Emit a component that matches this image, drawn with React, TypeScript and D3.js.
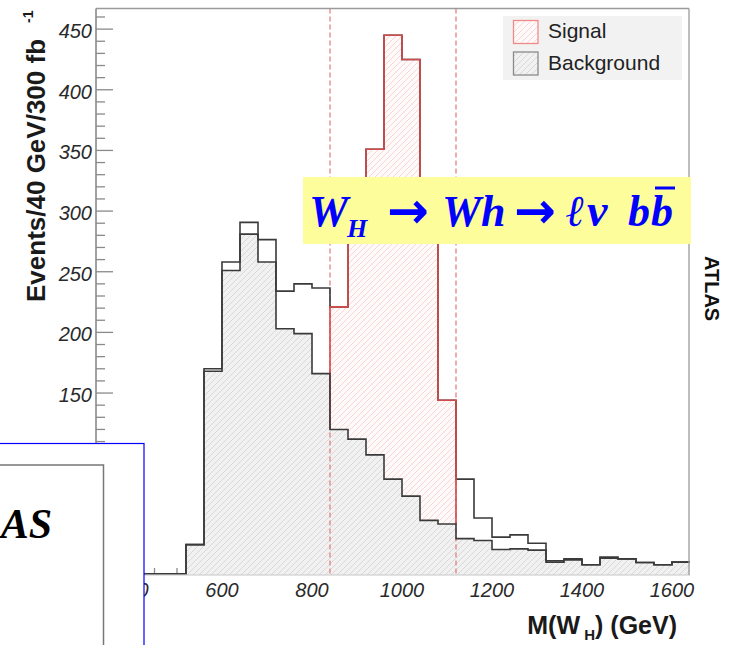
import React from 'react';
import * as d3 from 'd3';

// ---------------- data ----------------
const binStart = 320;
const binWidth = 40;
// background events per 40 GeV bin (320 .. 1640 GeV)
const background = [
  1, 1, 1, 1, 1, 25, 168, 251, 281, 258, 203, 199, 166,
  120, 112, 99, 79, 65, 45, 42,
  30, 28.5, 21, 21.5, 20.5, 10.6, 12.5, 8.4, 13.9, 13.3, 10.3, 8.4, 10.6,
];
// signal events stacked on top of background
const signal = [
  0, 0, 0, 0, 0, 0, 2, 7, 9.7, 18.5, 31, 41, 70.6,
  101, 190, 252, 366, 360, 262, 102,
  49, 18.5, 10.2, 11.6, 5.7, 1.1, 0.8, 0, 0.8, 0, 0, 0, 0,
];
const massWindow = [840, 1120];
const xMajorTicks = [400, 600, 800, 1000, 1200, 1400, 1600];
const yMajorTicks = [0, 50, 100, 150, 200, 250, 300, 350, 400, 450];
const xDomain = [320, 1640];
const yDomain = [0, 467];
const legendItems = ['Signal', 'Background'];

const SANS = "'Liberation Sans', Arial, Helvetica, sans-serif";
const SERIF = "'Liberation Serif', 'Times New Roman', 'DejaVu Serif', serif";

export default function App() {
  const W = 731, H = 645;
  const x = d3.scaleLinear().domain(xDomain).range([96, 690]);
  const y = d3.scaleLinear().domain(yDomain).range([575, 8.5]);

  const bins = background.map((b, i) => ({
    x0: binStart + i * binWidth,
    x1: binStart + (i + 1) * binWidth,
    bkg: b,
    tot: b + signal[i],
  }));
  const last = bins[bins.length - 1];

  const stepPts = (key: 'bkg' | 'tot') =>
    bins.map((d) => [d.x0, d[key]] as [number, number]).concat([[last.x1, last[key]]]);

  const line = d3.line<[number, number]>().x((d) => x(d[0])).y((d) => y(d[1])).curve(d3.curveStepAfter);
  const bkgArea = d3
    .area<[number, number]>()
    .x((d) => x(d[0]))
    .y0(y(0))
    .y1((d) => y(d[1]))
    .curve(d3.curveStepAfter);

  const win = bins.filter((d) => d.x0 >= massWindow[0] && d.x1 <= massWindow[1]);
  const winLast = win[win.length - 1];
  type P = { x: number; lo: number; hi: number };
  const winPts: P[] = win.map((d) => ({ x: d.x0, lo: d.bkg, hi: d.tot }));
  winPts.push({ x: winLast.x1, lo: winLast.bkg, hi: winLast.tot });
  const sigArea = d3
    .area<P>()
    .x((d) => x(d.x))
    .y0((d) => y(d.lo))
    .y1((d) => y(d.hi))
    .curve(d3.curveStepAfter);
  const redOutline: [number, number][] = [[win[0].x0, win[0].bkg] as [number, number]]
    .concat(win.map((d) => [d.x0, d.tot] as [number, number]))
    .concat([[winLast.x1, winLast.tot], [winLast.x1, winLast.bkg]]);

  const xMinor = d3.range(350, 1640, 50).filter((v) => v % 200 !== 0);
  const yMinor = d3.range(0, 467, 10).filter((v) => v % 50 !== 0);

  const axisColor = '#8a8a8a';
  const labelColor = '#2a2a2a';

  return (
    <div style={{ position: 'absolute', left: 0, top: 0 }}>
      <svg width={W} height={H} style={{ display: 'block', background: '#fff' }}>
        <defs>
          <pattern id="hatchGray" patternUnits="userSpaceOnUse" width="6" height="6">
            <rect width="6" height="6" fill="#f1f1f1" />
            <path d="M-1,1 l2,-2 M0,6 l6,-6 M5,7 l2,-2" stroke="#d2d2d2" strokeWidth="0.8" />
          </pattern>
          <pattern id="hatchRed" patternUnits="userSpaceOnUse" width="6" height="6">
            <rect width="6" height="6" fill="#fffafa" />
            <path d="M-1,1 l2,-2 M0,6 l6,-6 M5,7 l2,-2" stroke="#f7cccc" strokeWidth="0.8" />
          </pattern>
        </defs>

        {/* axis ticks (drawn beneath the histograms) */}
        {xMajorTicks.map((v) => (
          <line key={'xM' + v} x1={x(v)} x2={x(v)} y1={575} y2={561} stroke={axisColor} strokeWidth={1.3} />
        ))}
        {xMinor.map((v) => (
          <line key={'xm' + v} x1={x(v)} x2={x(v)} y1={575} y2={568} stroke={axisColor} strokeWidth={1.3} />
        ))}

        {/* background histogram fill */}
        <path d={bkgArea(stepPts('bkg')) || ''} fill="url(#hatchGray)" stroke="none" />
        {/* signal fill inside mass window */}
        <path d={sigArea(winPts) || ''} fill="url(#hatchRed)" stroke="none" />

        {/* mass window lines */}
        {massWindow.map((v) => (
          <line key={'w' + v} x1={x(v)} x2={x(v)} y1={8.5} y2={575} stroke="#e46a6a" strokeWidth={1.1} strokeDasharray="5,3" />
        ))}

        {/* total (signal + background) outline */}
        <path d={line(stepPts('tot')) || ''} fill="none" stroke="#3a3a3a" strokeWidth={1.6} />
        {/* signal outline in window */}
        <path d={line(redOutline) || ''} fill="none" stroke="#d24a4a" strokeWidth={1.6} />
        {/* background outline */}
        <path d={line(stepPts('bkg')) || ''} fill="none" stroke="#3a3a3a" strokeWidth={1.6} />

        {/* frame */}
        <line x1={96} x2={690} y1={575} y2={575} stroke="#c8c8c8" strokeWidth={1.2} />
        <line x1={96} x2={689} y1={8.5} y2={8.5} stroke="#9a9a9a" strokeWidth={1.3} />
        <line x1={689} x2={689} y1={8.5} y2={575} stroke="#9a9a9a" strokeWidth={1.3} />
        <line x1={96} x2={96} y1={8.5} y2={575} stroke={axisColor} strokeWidth={1.6} />
        {yMajorTicks.map((v) => (
          <line key={'yM' + v} x1={96} x2={113} y1={y(v)} y2={y(v)} stroke={axisColor} strokeWidth={1.3} />
        ))}
        {yMinor.map((v) => (
          <line key={'ym' + v} x1={96} x2={105} y1={y(v)} y2={y(v)} stroke={axisColor} strokeWidth={1.3} />
        ))}

        {/* tick labels */}
        {yMajorTicks.map((v) => (
          <text key={'yl' + v} x={92} y={y(v) + 9} textAnchor="end" fontFamily={SANS} fontStyle="italic" fontSize={20} fill={labelColor}>
            {v}
          </text>
        ))}
        {xMajorTicks.map((v) => (
          <text key={'xl' + v} x={x(v)} y={597} textAnchor="middle" fontFamily={SANS} fontStyle="italic" fontSize={20} fill={labelColor}>
            {v}
          </text>
        ))}

        {/* axis titles */}
        <text transform="translate(45,302) rotate(-90)" fontFamily={SANS} fontWeight="bold" fontSize={26} fill="#1a1a1a">
          Events/40 GeV/300 fb
        </text>
        <text transform="translate(33,23) rotate(-90)" fontFamily={SANS} fontWeight="bold" fontSize={14} fill="#1a1a1a">
          -1
        </text>
        <text x={677} y={634} textAnchor="end" fontFamily={SANS} fontWeight="bold" fontSize={25} fill="#1a1a1a">
          M(W
          <tspan dy={6} fontSize={15}> H</tspan>
          <tspan dy={-6}>) (GeV)</tspan>
        </text>

        {/* right-hand ATLAS label */}
        <text transform="translate(705,256) rotate(90)" fontFamily={SANS} fontWeight="bold" fontSize={20} fill="#111">
          ATLAS
        </text>

        {/* legend */}
        <rect x={503} y={16} width={179} height={64} fill="#f2f2f2" />
        <rect x={513.5} y={20.5} width={24.5} height={23} fill="url(#hatchRed)" stroke="#f08a8a" strokeWidth={1.3} />
        <rect x={513.5} y={52} width={24.5} height={23} fill="url(#hatchGray)" stroke="#8a8a8a" strokeWidth={1.3} />
        {legendItems.map((t, i) => (
          <text key={t} x={548} y={38 + i * 32} fontFamily={SANS} fontSize={21} fill="#222">
            {t}
          </text>
        ))}

        {/* process annotation */}
        <rect x={303} y={177} width={388} height={67} fill="#fdfd9c" />
        <g fontFamily={SERIF} fontWeight="bold" fontStyle="italic" fill="#0000ff">
          <text x={309} y={226} fontSize={44}>W</text>
          <text x={347} y={237} fontSize={26}>H</text>
          <text x={387} y={228} fontSize={50} fontStyle="normal" fontFamily="'DejaVu Sans', sans-serif">→</text>
          <text x={442} y={226} fontSize={44}>Wh</text>
          <text x={514} y={228} fontSize={50} fontStyle="normal" fontFamily="'DejaVu Sans', sans-serif">→</text>
          <text x={566} y={226} fontSize={44}>ℓ</text>
          <text x={587} y={226} fontSize={46}>ν</text>
          <text x={628} y={226} fontSize={44}>b</text>
          <text x={651} y={226} fontSize={44}>b</text>
        </g>
        <line x1={655} x2={675} y1={188} y2={188} stroke="#0000ff" strokeWidth={3} />

        {/* overlapping inset box (bottom left) */}
        <rect x={-2} y={443.5} width={146} height={210} fill="#fff" stroke="#0000ff" strokeWidth={1.2} />
        <rect x={-2} y={465} width={105.5} height={200} fill="#fff" stroke="#777" strokeWidth={1.5} />
        <text x={52} y={538} textAnchor="end" fontFamily={SERIF} fontWeight="bold" fontStyle="italic" fontSize={42} fill="#000">
          AS
        </text>
      </svg>
    </div>
  );
}
